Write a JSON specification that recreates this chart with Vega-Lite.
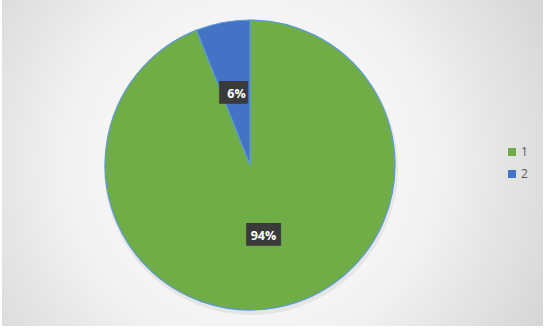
{
  "$schema": "https://vega.github.io/schema/vega-lite/v6.json",
  "width": 541,
  "height": 326,
  "autosize": {"type": "none"},
  "padding": {"left": 2, "top": 0, "right": 12, "bottom": 4},
  "background": "#ffffff",
  "config": {"view": {"stroke": null}},
  "data": {"values": [
    {"cat": "1", "value": 94, "label": "94%"},
    {"cat": "2", "value": 6, "label": "6%"}
  ]},
  "layer": [
    {
      "mark": {
        "type": "rect",
        "color": {
          "gradient": "radial",
          "x1": 0.46, "y1": 0.5, "x2": 0.46, "y2": 0.5, "r1": 0, "r2": 0.75,
          "stops": [
            {"offset": 0, "color": "#ffffff"},
            {"offset": 0.45, "color": "#f2f2f2"},
            {"offset": 1, "color": "#c8c8c8"}
          ]
        }
      },
      "encoding": {}
    },
    {
      "mark": {"type": "arc", "outerRadius": 147, "color": "#000000", "opacity": 0.06},
      "encoding": {
        "x": {"value": 249},
        "y": {"value": 168},
        "theta": {"field": "value", "type": "quantitative", "stack": true}
      }
    },
    {
      "mark": {"type": "arc", "outerRadius": 145, "stroke": "#5b9bd5", "strokeWidth": 1.2},
      "encoding": {
        "x": {"value": 248},
        "y": {"value": 165},
        "theta": {"field": "value", "type": "quantitative", "stack": true},
        "order": {"field": "cat", "type": "ordinal"},
        "color": {
          "field": "cat", "type": "nominal",
          "scale": {"domain": ["1", "2"], "range": ["#70ad47", "#4472c4"]},
          "legend": {
            "title": null,
            "orient": "none",
            "legendX": 504,
            "legendY": 146,
            "symbolType": "square",
            "symbolSize": 64,
            "symbolStrokeWidth": 0,
            "labelFontSize": 12,
            "labelFont": "Open Sans",
            "labelColor": "#595959",
            "rowPadding": 10,
            "labelOffset": 3
          }
        }
      }
    },
    {
      "mark": {"type": "text", "radius": 72, "font": "DejaVu Sans Mono", "fontSize": 19, "color": "#3a3a3a", "align": "center", "baseline": "middle", "dy": -1},
      "encoding": {
        "x": {"value": 248},
        "y": {"value": 165},
        "theta": {"field": "value", "type": "quantitative", "stack": true},
        "order": {"field": "cat", "type": "ordinal"},
        "text": {"condition": {"test": "datum.cat == '2'", "value": "██▌"}, "value": "███"}
      }
    },
    {
      "mark": {"type": "text", "radius": 72, "font": "Open Sans", "fontSize": 12.5, "fontWeight": "bold", "color": "#ffffff", "align": "center", "baseline": "middle"},
      "encoding": {
        "x": {"value": 248},
        "y": {"value": 165},
        "theta": {"field": "value", "type": "quantitative", "stack": true},
        "order": {"field": "cat", "type": "ordinal"},
        "text": {"field": "label"}
      }
    }
  ]
}
